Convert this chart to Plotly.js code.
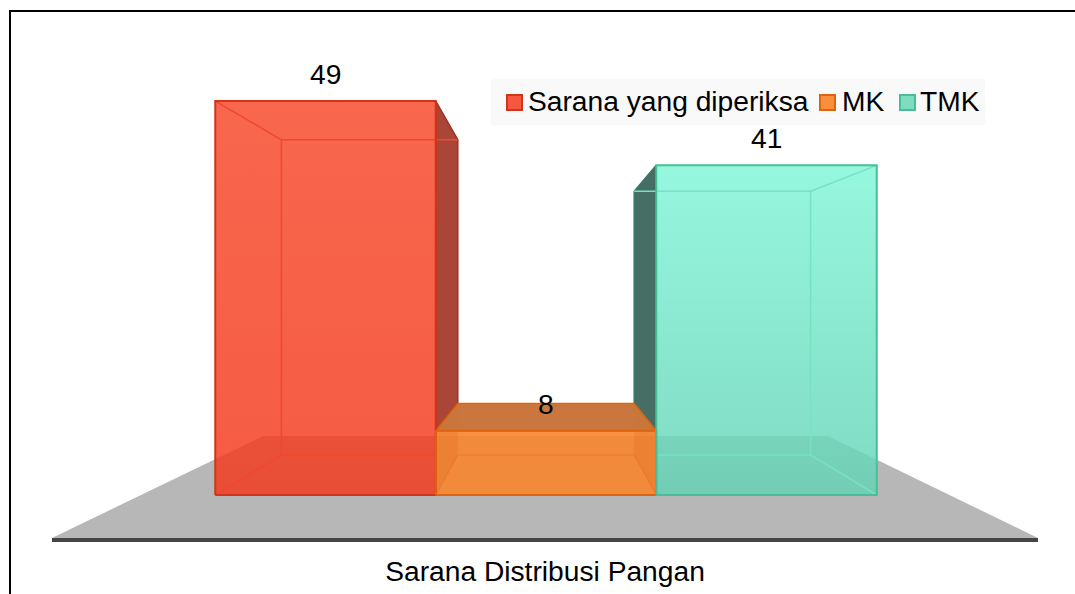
<!DOCTYPE html>
<html>
<head>
<meta charset="utf-8">
<script src="https://cdn.plot.ly/plotly-3.0.1.min.js"></script>
<style>html,body{margin:0;padding:0;background:#fff;overflow:hidden}</style>
</head>
<body>
<div id="chart" style="width:1075px;height:594px"></div>
<script>
const categories = ['Sarana yang diperiksa', 'MK', 'TMK'];
const values = [49, 8, 41];
const axisTitle = 'Sarana Distribusi Pangan';
const faceColors = ['rgba(243,55,25,0.82)', 'rgba(248,133,45,0.9)', 'rgba(100,210,180,0.82)'];
const outerEdges = ['rgb(208,52,26)', 'rgb(222,100,14)', 'rgb(72,190,150)'];
const innerEdges = ['rgb(241,72,45)', 'rgba(228,112,28,0.4)', 'rgb(118,226,194)'];
const sideColors = ['rgb(170,70,55)', 'rgba(205,90,10,0.16)', 'rgb(70,110,100)'];
const sideEdges = ['rgb(160,50,32)', 'rgb(222,100,14)', 'rgb(58,120,105)'];
const glowHue = ['255,130,105', '255,255,255', '155,255,229'];
const glowTop = [0.3, 0, 0.8];

const W = 1075, H = 594;
const M = {l: 52, r: 37, t: 20, b: 56};
const pxPerCat = 220.5, pxPerUnit = 8.04, centerPx = 546, basePx = 495;
const toX = px => 1 + (px - centerPx) / pxPerCat;
const toV = py => (basePx - py) / pxPerUnit;
const paperX = px => (px - M.l) / (W - M.l - M.r);
const paperY = py => 1 - (py - M.t) / (H - M.t - M.b);

// depth projection toward the vanishing point
const depthScale = 0.8, vpX = 1, vpV = 24.9;
const back = (x, v) => [vpX + (x - vpX) * depthScale, vpV + (v - vpV) * depthScale];

const traces = [];
function poly(pts, fill, edge, width) {
  const t = {
    type: 'scatter', mode: edge ? 'lines' : 'none',
    x: pts.map(p => p[0]).concat(pts[0][0]),
    y: pts.map(p => p[1]).concat(pts[0][1]),
    showlegend: false, hoverinfo: 'skip'
  };
  if (fill) { t.fill = 'toself'; t.fillcolor = fill; }
  if (edge) t.line = {color: edge, width: width || 1.5};
  return t;
}
function seg(pts, color, width) {
  return {type: 'scatter', mode: 'lines', x: pts.map(p => p[0]), y: pts.map(p => p[1]),
    line: {color, width}, showlegend: false, hoverinfo: 'skip'};
}

// front faces as bars
categories.forEach((name, i) => {
  traces.push({
    type: 'bar', name, x: [i], y: [values[i]], width: [1],
    marker: {color: faceColors[i], line: {width: 0}},
    showlegend: false, hoverinfo: 'x+y'
  });
});

// gradient on the front faces
categories.forEach((name, i) => {
  const l = i - 0.5, r = i + 0.5, v = values[i];
  traces.push({
    type: 'scatter', mode: 'none',
    x: [l, r, r, l, l], y: [0, 0, v, v, 0],
    fill: 'toself',
    fillgradient: {type: 'vertical', colorscale: [[0, 'rgba(' + glowHue[i] + ',0)'], [1, 'rgba(' + glowHue[i] + ',' + glowTop[i] + ')']]},
    showlegend: false, hoverinfo: 'skip'
  });
});

// side and top faces
const v0 = values[0], v1 = values[1], v2 = values[2];
traces.push(poly([[0.5, v0], back(0.5, v0), back(0.5, v1), [0.5, v1]], sideColors[0], sideEdges[0], 1.5));
traces.push(poly([[1.5, v2], back(1.5, v2), back(1.5, v1), [1.5, v1]], sideColors[2], sideEdges[2], 1.5));
traces.push(poly([[0.5, v1], back(0.5, v1), back(0.5, 0), [0.5, 0]], sideColors[1]));
traces.push(poly([[1.5, v1], back(1.5, v1), back(1.5, 0), [1.5, 0]], sideColors[1]));
traces.push(poly([[0.5, v1], back(0.5, v1), back(1.5, v1), [1.5, v1]], 'rgba(198,112,52,0.95)', sideEdges[1], 1.5));

// inner edges: the tall boxes stop at the neighbouring front faces
const floorBack = back(1, 0)[1];
const cR = innerEdges[0], cO = innerEdges[1], cG = innerEdges[2];
traces.push(seg([[0.5, floorBack], back(-0.5, 0), back(-0.5, v0), back(0.5, v0)], cR, 1.5));
traces.push(seg([[-0.5, v0], back(-0.5, v0)], cR, 1.5));
traces.push(seg([[-0.5, 0], back(-0.5, 0)], cR, 1.5));
traces.push(seg([[1.5, floorBack], back(2.5, 0), back(2.5, v2), back(1.5, v2)], cG, 1.5));
traces.push(seg([[2.5, v2], back(2.5, v2)], cG, 1.5));
traces.push(seg([[2.5, 0], back(2.5, 0)], cG, 1.5));
traces.push(seg([[0.5, 0], back(0.5, 0), back(1.5, 0), [1.5, 0]], cO, 1.5));

// outer edges of each front face
categories.forEach((name, i) => {
  const l = i - 0.5, r = i + 0.5, v = values[i];
  traces.push(seg([[l, 0], [r, 0], [r, v], [l, v], [l, 0]], outerEdges[i], 2));
});

// floor, frame, legend box
const floorPath = 'M' + [[52, 538], [1038, 538], [828, 436], [263, 436]]
  .map(p => toX(p[0]) + ',' + toV(p[1])).join('L') + 'Z';
const shapes = [
  {type: 'path', xref: 'x', yref: 'y', path: floorPath, fillcolor: '#b7b7b7', line: {width: 0}, layer: 'below'},
  {type: 'line', xref: 'paper', yref: 'paper', x0: paperX(10), x1: paperX(10), y0: paperY(10), y1: paperY(594),
    line: {color: '#000', width: 2}},
  {type: 'line', xref: 'paper', yref: 'paper', x0: paperX(9), x1: paperX(1075), y0: paperY(11), y1: paperY(11),
    line: {color: '#000', width: 2}},
  {type: 'rect', xref: 'paper', yref: 'paper', x0: paperX(491), x1: paperX(985), y0: paperY(79), y1: paperY(125),
    fillcolor: '#f9f9f9', line: {width: 0}}
];

// legend keys and labels
const keyX = [507, 820, 900], labelX = [527, 841, 919];
const font = {family: '"Liberation Sans", Arial, sans-serif', color: '#000', size: 28.2};
const annotations = [];
categories.forEach((name, i) => {
  shapes.push({type: 'rect', xref: 'paper', yref: 'paper',
    x0: paperX(keyX[i]), x1: paperX(keyX[i] + 15), y0: paperY(95), y1: paperY(110),
    fillcolor: ['#f6583f', '#f98e3c', '#7fdcbf'][i], line: {color: outerEdges[i], width: 2}});
  annotations.push({xref: 'paper', yref: 'paper', x: paperX(labelX[i]), y: paperY(101),
    xanchor: 'left', yanchor: 'middle', text: name, showarrow: false, font, borderpad: 0});
  annotations.push({xref: 'x', yref: 'y', x: i, y: values[i], yshift: 27, xanchor: 'center', yanchor: 'middle',
    text: String(values[i]), showarrow: false, font});
});

const layout = {
  width: W, height: H, margin: M,
  paper_bgcolor: '#fff', plot_bgcolor: 'rgba(0,0,0,0)',
  barmode: 'overlay', showlegend: false,
  xaxis: {type: 'linear', range: [toX(52), toX(1038)], showgrid: false, zeroline: false,
    showticklabels: false, ticks: '', showline: true, linecolor: '#444', linewidth: 3.5, fixedrange: true,
    title: {text: axisTitle, font, standoff: 22}},
  yaxis: {range: [toV(538), toV(20)], visible: false, fixedrange: true},
  shapes, annotations
};
Plotly.newPlot('chart', traces, layout, {displayModeBar: false, staticPlot: true});
</script>
</body>
</html>
